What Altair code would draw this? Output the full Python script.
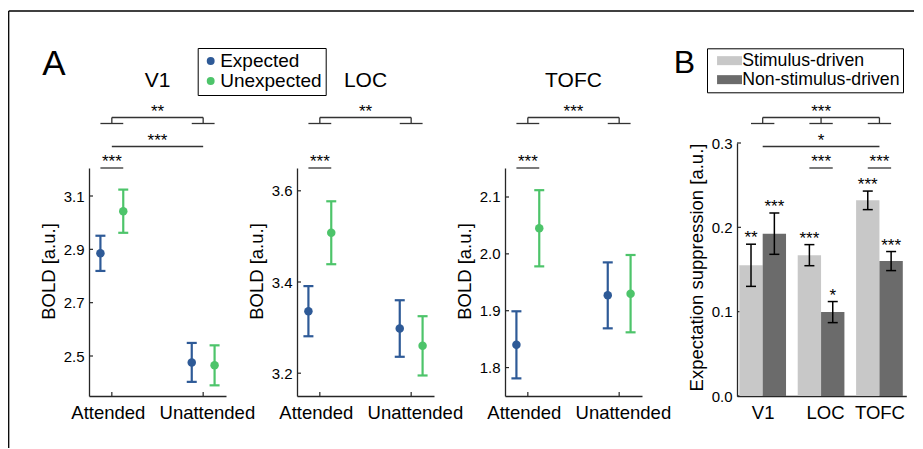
import json
import altair as alt
import pandas as pd

# ---------------- data ----------------
conditions = ["Attended", "Unattended"]
expectations = ["Expected", "Unexpected"]
regions = ["V1", "LOC", "TOFC"]

# order: Attended-Expected, Attended-Unexpected, Unattended-Expected, Unattended-Unexpected
v1_mean = [2.885, 3.043, 2.476, 2.465]
v1_sem = [0.066, 0.081, 0.073, 0.075]
loc_mean = [3.336, 3.508, 3.298, 3.260]
loc_sem = [0.055, 0.069, 0.062, 0.065]
tofc_mean = [1.840, 2.045, 1.927, 1.930]
tofc_sem = [0.059, 0.067, 0.058, 0.068]

v1_ticks = [2.5, 2.7, 2.9, 3.1]
loc_ticks = [3.2, 3.4, 3.6]
tofc_ticks = [1.8, 1.9, 2.0, 2.1]
v1_domain = [2.35, 3.205]
loc_domain = [3.15, 3.65]
tofc_domain = [1.75, 2.151]

# stars: attended pair, attention main effect, interaction bracket
v1_stars = ["***", "***", "**"]
loc_stars = ["***", "", "**"]
tofc_stars = ["***", "", "***"]

bar_types = ["Stimulus-driven", "Non-stimulus-driven"]
stim_mean = [0.155, 0.167, 0.232]
stim_sem = [0.025, 0.0125, 0.011]
non_mean = [0.1925, 0.0995, 0.160]
non_sem = [0.0245, 0.0125, 0.0113]
stim_stars = ["**", "***", "***"]
non_stars = ["***", "*", "***"]
b_ticks = [0.0, 0.1, 0.2, 0.3]
b_domain = [0.0, 0.3]
b_pair_stars = ["", "***", "***"]
b_mid_star = "*"
b_top_star = "***"

# ---------------- style / layout ----------------
FONT = "Liberation Sans"
BLUE, GREEN = "#2E5A97", "#4DC46A"
EXP_COLORS = [BLUE, GREEN]
LIGHT, DARK = "#C8C8C8", "#6B6B6B"
AX = "#262626"
LINE = "#333333"
H = 253
A_TOP = 25
A_W = 137
A_CELLS = [208, 208, 232]
B_W = 169.3
A_XDOM = [0.75, 2.25]
B_XDOM = [0.56, 3.46]
OFF = 0.125
BAR_W = 0.4
PAIR_PX, MAIN_PX, BR_PX, LEG_PX = 25, 3.5, -25.5, -19.5
STAR_FS = 17


def px2val(px, dom, top, bottom=H):
    return dom[0] + (bottom - px) * (dom[1] - dom[0]) / (bottom - top)


def make_axis(**kw):
    try:
        return alt.Axis(**kw)
    except Exception:
        kw.pop("labelOffset", None)
        return alt.Axis(**kw)


COLOR = alt.Color(
    "exp:N",
    scale=alt.Scale(domain=expectations, range=EXP_COLORS),
    legend=alt.Legend(
        orient="none", legendX=108.7, legendY=-95, title=None,
        symbolType="circle", symbolSize=62, symbolStrokeWidth=0,
        labelFontSize=19, labelFont=FONT, labelColor="black",
        labelOffset=0, rowPadding=0, padding=3.5,
        strokeColor="black", fillColor="white", cornerRadius=0,
    ),
)
STROKE = alt.Stroke("lc:N", scale=None)


def panel_a(name, means, sems, ticks, dom, stars, cell_w, first=False):
    rows = []
    for ci, c in enumerate(conditions):
        for ei, e in enumerate(expectations):
            k = ci * 2 + ei
            rows.append(dict(cond=c, exp=e, lc=EXP_COLORS[ei],
                             x=ci + 1 + (-OFF if ei == 0 else OFF),
                             mean=means[k], lo=means[k] - sems[k], hi=means[k] + sems[k]))
    df = pd.DataFrame(rows)
    cap = 5 / (A_W / (A_XDOM[1] - A_XDOM[0]))
    df["c0"] = df.x - cap
    df["c1"] = df.x + cap

    xscale = alt.Scale(domain=A_XDOM, range=[0, A_W], nice=False, zero=False)
    yscale = alt.Scale(domain=dom, range=[H, A_TOP], nice=False, zero=False)
    xaxis = make_axis(values=[1, 2],
                      labelExpr=f"{json.dumps(conditions)}[datum.value - 1]",
                      labelOffset={"condition": {"test": "datum.value == 1", "value": -4}, "value": 3.7},
                      labelFontSize=18.5, labelPadding=7, title=None)
    yaxis = alt.Axis(values=ticks, format=".1f", labelFontSize=15, labelPadding=5,
                     title="BOLD [a.u.]", titleFontSize=18.5, titleFontWeight="normal",
                     titleX=-34.5, titleY=128, titleAngle=270,
                     titleBaseline="alphabetic", titleAlign="center")

    def X(f):
        return alt.X(f, scale=xscale, axis=xaxis)

    def Y(f):
        return alt.Y(f, scale=yscale, axis=yaxis)

    base = alt.Chart(df)
    err = base.mark_rule(strokeWidth=2.2).encode(x=X("x:Q"), y=Y("lo:Q"), y2="hi:Q", stroke=STROKE)
    cap_lo = base.mark_rule(strokeWidth=2.2).encode(x=X("c0:Q"), x2="c1:Q", y=Y("lo:Q"), stroke=STROKE)
    cap_hi = base.mark_rule(strokeWidth=2.2).encode(x=X("c0:Q"), x2="c1:Q", y=Y("hi:Q"), stroke=STROKE)
    pts = base.mark_circle(size=72, opacity=1).encode(x=X("x:Q"), y=Y("mean:Q"), color=COLOR)

    yt = alt.Chart(pd.DataFrame({"t": ticks})).mark_rule(color=AX, strokeWidth=1.2).encode(
        y=Y("t:Q"), x=alt.value(0), x2=alt.value(4))
    xt = alt.Chart(pd.DataFrame({"c": [1, 2]})).mark_rule(color=AX, strokeWidth=1.2).encode(
        x=X("c:Q"), y=alt.value(H), y2=alt.value(H - 4))

    pair_y = px2val(PAIR_PX, dom, A_TOP)
    main_y = px2val(MAIN_PX, dom, A_TOP)
    br_y = px2val(BR_PX, dom, A_TOP)
    leg_y = px2val(LEG_PX, dom, A_TOP)
    segs = [(1 - OFF, 1 + OFF, pair_y, pair_y)]
    if stars[1]:
        segs.append((1, 2, main_y, main_y))
    segs += [(1, 2, br_y, br_y), (1, 1, br_y, leg_y), (2, 2, br_y, leg_y),
             (1 - OFF, 1 + OFF, leg_y, leg_y), (2 - OFF, 2 + OFF, leg_y, leg_y)]
    sdf = pd.DataFrame(segs, columns=["x", "x2", "y", "y2"])
    br = alt.Chart(sdf).mark_rule(color=LINE, strokeWidth=1.3).encode(
        x=X("x:Q"), x2="x2:Q", y=Y("y:Q"), y2="y2:Q")

    txt = [(1, pair_y, stars[0]), (1.5, br_y, stars[2])]
    if stars[1]:
        txt.append((1.5, main_y, stars[1]))
    tdf = pd.DataFrame(txt, columns=["x", "y", "s"])
    st = alt.Chart(tdf).mark_text(baseline="alphabetic", align="center", dy=-1,
                                  fontSize=STAR_FS, color="black").encode(
        x=X("x:Q"), y=Y("y:Q"), text="s:N")

    title = alt.Chart(pd.DataFrame({"x": [1.5], "t": [name]})).mark_text(
        fontSize=21, baseline="alphabetic", align="center", color="black").encode(
        x=X("x:Q"), y=alt.value(-56.3), text="t:N")

    layers = [yt, xt, err, cap_lo, cap_hi, pts, br, st, title]
    if first:
        lab = alt.Chart(pd.DataFrame({"t": ["A"]})).mark_text(
            fontSize=35, align="center", baseline="alphabetic", color="black").encode(
            x=alt.value(-35.1), y=alt.value(-68), text="t:N")
        frame_top = alt.Chart(pd.DataFrame({"t": [0]})).mark_rule(color="black", strokeWidth=1.3).encode(
            x=alt.value(-80.3), x2=alt.value(825.0), y=alt.value(-132))
        frame_left = alt.Chart(pd.DataFrame({"t": [0]})).mark_rule(color="black", strokeWidth=1.3).encode(
            x=alt.value(-80.3), y=alt.value(-132), y2=alt.value(305))
        layers += [lab, frame_top, frame_left]
    return alt.layer(*layers).properties(width=cell_w, height=H)


def panel_b():
    rows = []
    for gi, r in enumerate(regions):
        g = gi + 1
        rows.append(dict(region=r, type=bar_types[0], x0=g - BAR_W, x1=g, xc=g - BAR_W / 2,
                         mean=stim_mean[gi], lo=stim_mean[gi] - stim_sem[gi],
                         hi=stim_mean[gi] + stim_sem[gi], star=stim_stars[gi], base=0.0))
        rows.append(dict(region=r, type=bar_types[1], x0=g, x1=g + BAR_W, xc=g + BAR_W / 2,
                         mean=non_mean[gi], lo=non_mean[gi] - non_sem[gi],
                         hi=non_mean[gi] + non_sem[gi], star=non_stars[gi], base=0.0))
    df = pd.DataFrame(rows)
    cap = 5 / (B_W / (B_XDOM[1] - B_XDOM[0]))
    df["c0"] = df.xc - cap
    df["c1"] = df.xc + cap

    xscale = alt.Scale(domain=B_XDOM, nice=False, zero=False)
    yscale = alt.Scale(domain=b_domain, nice=False, zero=False)
    xaxis = make_axis(values=[1, 2, 3],
                      labelExpr=f"{json.dumps(regions)}[datum.value - 1]",
                      labelOffset={"condition": {"test": "datum.value == 2", "value": 4}, "value": 0},
                      labelFontSize=18.5, labelPadding=7, title=None)
    yaxis = alt.Axis(values=b_ticks, format=".1f", labelFontSize=15, labelPadding=5,
                     title="Expectation suppression [a.u.]", titleFontSize=18.5,
                     titleFontWeight="normal", titleX=-35, titleY=124, titleAngle=270,
                     titleBaseline="alphabetic", titleAlign="center")

    def X(f):
        return alt.X(f, scale=xscale, axis=xaxis)

    def Y(f):
        return alt.Y(f, scale=yscale, axis=yaxis)

    fill = alt.Fill(
        "type:N", scale=alt.Scale(domain=bar_types, range=[LIGHT, DARK]),
        legend=alt.Legend(
            orient="none", legendX=618, legendY=-94.7, title=None,
            symbolType="M-0.51,-1H5.04V1H-0.51Z", symbolSize=81, symbolStrokeWidth=0,
            labelFontSize=17.7, labelFont=FONT, labelColor="black",
            labelOffset=14, rowPadding=0, padding=3.5,
            strokeColor="black", fillColor="white", cornerRadius=0,
        ),
    )
    base = alt.Chart(df)
    yt = alt.Chart(pd.DataFrame({"t": b_ticks})).mark_rule(color=AX, strokeWidth=1.2).encode(
        y=Y("t:Q"), x=alt.value(0), x2=alt.value(4))
    bars = base.mark_bar().encode(x=X("x0:Q"), x2="x1:Q", y=Y("mean:Q"), y2="base:Q", fill=fill)
    err = base.mark_rule(color="black", strokeWidth=1.5).encode(x=X("xc:Q"), y=Y("lo:Q"), y2="hi:Q")
    cap_lo = base.mark_rule(color="black", strokeWidth=1.5).encode(x=X("c0:Q"), x2="c1:Q", y=Y("lo:Q"))
    cap_hi = base.mark_rule(color="black", strokeWidth=1.5).encode(x=X("c0:Q"), x2="c1:Q", y=Y("hi:Q"))
    bst = base.mark_text(baseline="alphabetic", align="center", dy=-1, fontSize=STAR_FS,
                         color="black").encode(x=X("xc:Q"), y=Y("hi:Q"), text="star:N")

    pair_y = px2val(PAIR_PX, b_domain, 0)
    main_y = px2val(MAIN_PX, b_domain, 0)
    br_y = px2val(BR_PX, b_domain, 0)
    leg_y = px2val(LEG_PX, b_domain, 0)
    h = BAR_W / 2
    segs, txt = [], []
    for gi, s in enumerate(b_pair_stars):
        g = gi + 1
        if s:
            segs.append((g - h, g + h, pair_y, pair_y))
            txt.append((g, pair_y, s))
    segs.append((1, 3, main_y, main_y))
    txt.append((2, main_y, b_mid_star))
    segs.append((1, 3, br_y, br_y))
    for g in [1, 2, 3]:
        segs.append((g, g, br_y, leg_y))
        segs.append((g - h, g + h, leg_y, leg_y))
    txt.append((2, br_y, b_top_star))
    sdf = pd.DataFrame(segs, columns=["x", "x2", "y", "y2"])
    tdf = pd.DataFrame(txt, columns=["x", "y", "s"])
    br = alt.Chart(sdf).mark_rule(color=LINE, strokeWidth=1.3).encode(
        x=X("x:Q"), x2="x2:Q", y=Y("y:Q"), y2="y2:Q")
    st = alt.Chart(tdf).mark_text(baseline="alphabetic", align="center", dy=-1,
                                  fontSize=STAR_FS, color="black").encode(
        x=X("x:Q"), y=Y("y:Q"), text="s:N")
    lab = alt.Chart(pd.DataFrame({"t": ["B"]})).mark_text(
        fontSize=32, align="center", baseline="alphabetic", color="black").encode(
        x=alt.value(-52.7), y=alt.value(-70), text="t:N")
    return alt.layer(yt, bars, err, cap_lo, cap_hi, bst, br, st, lab).properties(width=B_W, height=H)


v1 = panel_a("V1", v1_mean, v1_sem, v1_ticks, v1_domain, v1_stars, A_CELLS[0], first=True)
loc = panel_a("LOC", loc_mean, loc_sem, loc_ticks, loc_domain, loc_stars, A_CELLS[1])
tofc = panel_a("TOFC", tofc_mean, tofc_sem, tofc_ticks, tofc_domain, tofc_stars, A_CELLS[2])
b = panel_b()

chart = alt.hconcat(v1, loc, tofc, b, spacing=0, bounds="flush").properties(
    padding={"left": 0, "top": 2, "right": 0, "bottom": 0}
).configure(font=FONT).configure_view(stroke=None).configure_axis(
    domainColor=AX, domainWidth=1.3, labelColor="black", ticks=False, tickSize=0,
    grid=False, labelFont=FONT, titleFont=FONT, titleColor="black",
).configure_text(font=FONT)

chart.save("out.html", embed_options={"renderer": "svg", "actions": False})
